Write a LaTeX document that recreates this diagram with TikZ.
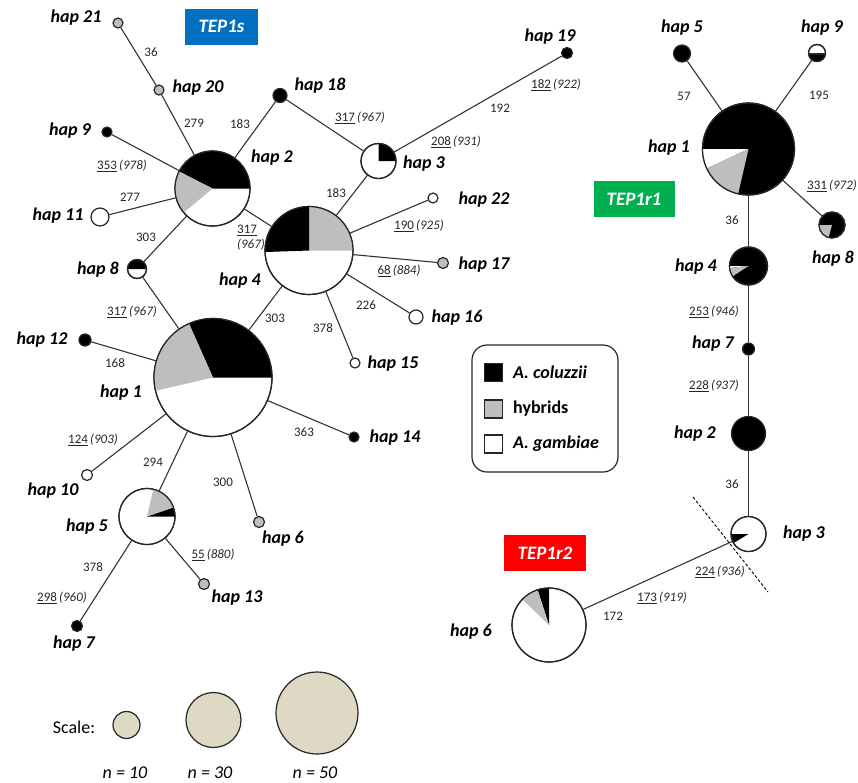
\documentclass[tikz,border=0pt]{standalone}
\usepackage{fontspec}
\setmainfont{Carlito}
\definecolor{hyb}{RGB}{190,190,190}
\definecolor{lblc}{RGB}{38,38,38}
\definecolor{tepblue}{RGB}{0,112,192}
\definecolor{tepgreen}{RGB}{0,176,80}
\definecolor{tepred}{RGB}{255,0,0}
\definecolor{scalefill}{RGB}{221,217,196}
% pie slice: node, radius (pt), start angle, end angle, colour
\newcommand\slice[5]{\fill[#5] (#1.center) -- ++(#3:#2pt) arc[start angle=#3, end angle=#4, radius=#2pt] -- cycle;}
% redraw the outline of a pie node over its slices
\newcommand\rim[2]{\draw[black!85, line width=1.2pt] (#1.center) circle[radius=#2pt];}
% mutation label: underlined position, italic position in brackets
\newcommand\mut[2]{\underline{#1}\,\textit{(#2)}}
\tikzset{
  hap/.style={circle, draw=black!85, line width=1.2pt, inner sep=0pt, minimum size=#1},
  edge/.style={draw=black!80, line width=1.1pt},
  hlabel/.style={font=\fontsize{18}{20}\selectfont\bfseries\itshape, inner sep=0pt},
  elabel/.style={font=\fontsize{13}{15}\selectfont, text=lblc, inner sep=0pt},
  tepbox/.style={font=\fontsize{19}{21}\selectfont\bfseries\itshape, text=white, inner sep=0pt, minimum width=#1, minimum height=36pt},
  legtext/.style={font=\fontsize{18}{20}\selectfont\bfseries, anchor=west, inner sep=0pt},
  legsq/.style={draw=black!85, line width=1.2pt, minimum size=18pt, inner sep=0pt},
  scalec/.style={circle, draw=black!85, line width=1.2pt, fill=scalefill, inner sep=0pt, minimum size=#1},
  scaletext/.style={font=\fontsize{18}{20}\selectfont, inner sep=0pt},
}
\begin{document}
\begin{tikzpicture}[x=1pt, y=1pt]
\useasboundingbox (0,0) rectangle (858,-782);

% ---------------- TEP1s network ----------------
\node[hap=10pt, fill=hyb] (s21) at (118,-23) {};
\node[hap=10pt, fill=hyb] (s20) at (159,-90) {};
\node[hap=14pt, fill=black] (s18) at (280,-95.5) {};
\node[hap=10pt, fill=black] (s9) at (107,-132) {};
\node[hap=18pt, fill=white] (s11) at (100,-217) {};
\node[hap=75pt, fill=white] (s2) at (212.5,-188.5) {};
\node[hap=19pt, fill=white] (s8) at (137,-269) {};
\node[hap=35pt, fill=white] (s3) at (378.5,-161) {};
\node[hap=11pt, fill=black] (s19) at (567,-53) {};
\node[hap=88pt, fill=white] (s4) at (309,-250.5) {};
\node[hap=10pt, fill=white] (s22) at (433,-198) {};
\node[hap=11pt, fill=hyb] (s17) at (443,-263) {};
\node[hap=14pt, fill=white] (s16) at (416,-317) {};
\node[hap=10pt, fill=white] (s15) at (355,-363) {};
\node[hap=118pt, fill=white] (s1) at (213,-377.5) {};
\node[hap=12pt, fill=black] (s12) at (85,-340) {};
\node[hap=11pt, fill=white] (s10) at (87,-475) {};
\node[hap=10pt, fill=black] (s14) at (354,-437) {};
\node[hap=11pt, fill=hyb] (s6) at (259,-522) {};
\node[hap=56pt, fill=white] (s5) at (147,-516.5) {};
\node[hap=11pt, fill=hyb] (s13) at (204,-584) {};
\node[hap=11pt, fill=black] (s7) at (77,-626) {};

% pie slices
\slice{s2}{37.5}{0}{153}{black}
\slice{s2}{37.5}{153}{220}{hyb}
\rim{s2}{37.5}
\slice{s8}{9.5}{0}{180}{black}
\rim{s8}{9.5}
\slice{s3}{17.5}{0}{90}{black}
\rim{s3}{17.5}
\slice{s4}{44}{0}{90}{hyb}
\slice{s4}{44}{90}{182}{black}
\rim{s4}{44}
\slice{s1}{59}{0}{114}{black}
\slice{s1}{59}{114}{193}{hyb}
\rim{s1}{59}
\slice{s5}{28}{0}{19}{black}
\slice{s5}{28}{19}{77}{hyb}
\rim{s5}{28}

% connectors
\draw[edge] (s21) -- (s20);
\draw[edge] (s20) -- (s2);
\draw[edge] (s18) -- (s2);
\draw[edge] (s9) -- (s2);
\draw[edge] (s11) -- (s2);
\draw[edge] (s8) -- (s2);
\draw[edge] (s8) -- (s1);
\draw[edge] (s2) -- (s4);
\draw[edge] (s18) -- (s3);
\draw[edge] (s3) -- (s19);
\draw[edge] (s3) -- (s4);
\draw[edge] (s4) -- (s22);
\draw[edge] (s4) -- (s17);
\draw[edge] (s4) -- (s16);
\draw[edge] (s4) -- (s15);
\draw[edge] (s4) -- (s1);
\draw[edge] (s1) -- (s12);
\draw[edge] (s1) -- (s10);
\draw[edge] (s1) -- (s5);
\draw[edge] (s1) -- (s6);
\draw[edge] (s1) -- (s14);
\draw[edge] (s5) -- (s13);
\draw[edge] (s5) -- (s7);

% haplotype names
\node[hlabel] (ts21) at (76,-18) {hap 21};
\node[hlabel] (ts20) at (198,-88) {hap 20};
\node[hlabel] (ts18) at (320,-86) {hap 18};
\node[hlabel] (ts9) at (70,-131) {hap 9};
\node[hlabel] (ts2) at (272,-158) {hap 2};
\node[hlabel] (ts11) at (58,-216) {hap 11};
\node[hlabel] (ts19) at (550,-37) {hap 19};
\node[hlabel] (ts3) at (424,-164) {hap 3};
\node[hlabel] (ts22) at (484,-200) {hap 22};
\node[hlabel] (ts17) at (484,-265) {hap 17};
\node[hlabel] (ts16) at (457,-318) {hap 16};
\node[hlabel] (ts15) at (393,-364) {hap 15};
\node[hlabel] (ts4) at (240,-281) {hap 4};
\node[hlabel] (ts8) at (98,-270) {hap 8};
\node[hlabel] (ts12) at (42,-340) {hap 12};
\node[hlabel] (ts1) at (121,-393) {hap 1};
\node[hlabel] (ts10) at (53,-491) {hap 10};
\node[hlabel] (ts14) at (395,-438) {hap 14};
\node[hlabel] (ts6) at (283,-539) {hap 6};
\node[hlabel] (ts5) at (87,-527) {hap 5};
\node[hlabel] (ts13) at (237,-598) {hap 13};
\node[hlabel] (ts7) at (74,-644) {hap 7};

% mutation labels
\node[elabel] (m1) at (151,-52) {36};
\node[elabel] (m2) at (194,-123) {279};
\node[elabel] (m3) at (240,-124) {183};
\node[elabel] (m4) at (122,-166) {\mut{353}{978}};
\node[elabel] (m5) at (130,-197) {277};
\node[elabel] (m6) at (146,-237) {303};
\node[elabel, align=left] (m7) at (251,-238) {\underline{317}\\\textit{(967)}};
\node[elabel] (m8) at (360,-118) {\mut{317}{967}};
\node[elabel] (m9) at (456,-142) {\mut{208}{931}};
\node[elabel] (m10) at (500,-108) {192};
\node[elabel] (m11) at (556,-85) {\mut{182}{922}};
\node[elabel] (m12) at (336,-193) {183};
\node[elabel] (m13) at (419,-226) {\mut{190}{925}};
\node[elabel] (m14) at (399,-271) {\mut{68}{884}};
\node[elabel] (m15) at (366,-305) {226};
\node[elabel] (m16) at (323,-328) {378};
\node[elabel] (m17) at (275,-318) {303};
\node[elabel] (m18) at (132,-312) {\mut{317}{967}};
\node[elabel] (m19) at (115,-363) {168};
\node[elabel] (m20) at (93,-440) {\mut{124}{903}};
\node[elabel] (m21) at (153,-462) {294};
\node[elabel] (m22) at (223,-482) {300};
\node[elabel] (m23) at (304,-432) {363};
\node[elabel] (m24) at (213,-555) {\mut{55}{880}};
\node[elabel] (m25) at (93,-567) {378};
\node[elabel] (m26) at (62,-598) {\mut{298}{960}};

\node[tepbox=73pt, fill=tepblue] (tep1s) at (221.5,-26.5) {TEP1s};

% ---------------- TEP1r1 / TEP1r2 network ----------------
\node[hap=17pt, fill=black] (r5) at (682,-53.5) {};
\node[hap=17pt, fill=white] (r9) at (817,-53) {};
\node[hap=92pt, fill=black] (r1) at (748.5,-149) {};
\node[hap=26pt, fill=black] (r8) at (832,-225) {};
\node[hap=38pt, fill=black] (r4) at (748.5,-266) {};
\node[hap=12pt, fill=black] (r7) at (748.5,-349) {};
\node[hap=34pt, fill=black] (r2) at (748.5,-433.5) {};
\node[hap=35pt, fill=white] (r3) at (748.5,-534) {};
\node[hap=74pt, fill=white] (q6) at (549,-625) {};

% hap 9: lower segment black, cut by a horizontal chord just below the centre
\begin{scope}
  \clip (r9.center) circle[radius=8.5pt];
  \fill[black] ([yshift=-1pt]r9.center) ++(-10pt,0) rectangle ++(20pt,-10pt);
\end{scope}
\draw[black!85, line width=1.1pt] ([yshift=-1pt]r9.center) ++(-8.4pt,0) -- ++(16.8pt,0);
\rim{r9}{8.5}
\slice{r1}{46}{180}{205}{white}
\slice{r1}{46}{205}{257}{hyb}
\rim{r1}{46}
\slice{r8}{13}{180}{255}{hyb}
\rim{r8}{13}
\slice{r4}{19}{180}{186}{white}
\slice{r4}{19}{186}{213}{hyb}
\rim{r4}{19}
\slice{r3}{17.5}{180}{211}{black}
\rim{r3}{17.5}
\slice{q6}{37}{90}{108}{black}
\slice{q6}{37}{108}{136}{hyb}
\rim{q6}{37}

\draw[edge] (r5) -- (r1);
\draw[edge] (r9) -- (r1);
\draw[edge] (r1) -- (r8);
\draw[edge] (r1) -- (r4);
\draw[edge] (r4) -- (r7);
\draw[edge] (r7) -- (r2);
\draw[edge] (r2) -- (r3);
\draw[edge] (r3) -- (q6);

% break between the two groups
\coordinate (cutA) at (693,-497);
\coordinate (cutB) at (768,-592);
\draw[black, line width=0.9pt, dashed, dash pattern=on 3pt off 2pt] (cutA) -- (cutB);

\node[hlabel] (tr5) at (682,-28) {hap 5};
\node[hlabel] (tr9) at (822,-28) {hap 9};
\node[hlabel] (tr1) at (669,-148) {hap 1};
\node[hlabel] (tr8) at (833,-259) {hap 8};
\node[hlabel] (tr4) at (696,-267) {hap 4};
\node[hlabel] (tr7) at (713,-344) {hap 7};
\node[hlabel] (tr2) at (695,-434) {hap 2};
\node[hlabel] (tr3) at (804,-534) {hap 3};
\node[hlabel] (tq6) at (471,-632) {hap 6};

\node[elabel] (n1) at (684,-96) {57};
\node[elabel] (n2) at (819,-95) {195};
\node[elabel] (n3) at (832,-186) {\mut{331}{972}};
\node[elabel] (n4) at (732,-220) {36};
\node[elabel] (n5) at (714,-312) {\mut{253}{946}};
\node[elabel] (n6) at (714,-386) {\mut{228}{937}};
\node[elabel] (n7) at (732,-484) {36};
\node[elabel] (n8) at (720,-572) {\mut{224}{936}};
\node[elabel] (n9) at (662,-598) {\mut{173}{919}};
\node[elabel] (n10) at (613,-616) {172};

\node[tepbox=81pt, fill=tepgreen] (tep1r1) at (634,-199) {TEP1r1};
\node[tepbox=82pt, fill=tepred] (tep1r2) at (545,-553) {TEP1r2};

% ---------------- legend ----------------
\node[draw=black!85, line width=1.2pt, rounded corners=15pt, minimum width=146pt, minimum height=127pt, inner sep=0pt] (legend) at (545,-408.5) {};
\node[legsq, fill=black] (kc) at (493.5,-372.5) {};
\node[legsq, fill=hyb] (kh) at (493.5,-409) {};
\node[legsq, fill=white] (kg) at (493.5,-444) {};
\node[legtext] (tc) at (513,-372.5) {\itshape A. coluzzii};
\node[legtext] (th) at (513,-409) {hybrids};
\node[legtext] (tg) at (513,-444) {\itshape A. gambiae};

% ---------------- size scale ----------------
\node[scaletext] (scl) at (74,-727) {Scale:};
\node[scalec=27pt] (c10) at (126.5,-725) {};
\node[scalec=55pt] (c30) at (213.5,-720) {};
\node[scalec=82pt] (c50) at (317,-713) {};
\node[scaletext] (n10l) at (125,-773) {\itshape n = 10};
\node[scaletext] (n30l) at (210,-773) {\itshape n = 30};
\node[scaletext] (n50l) at (315,-773) {\itshape n = 50};
\end{tikzpicture}
\end{document}
